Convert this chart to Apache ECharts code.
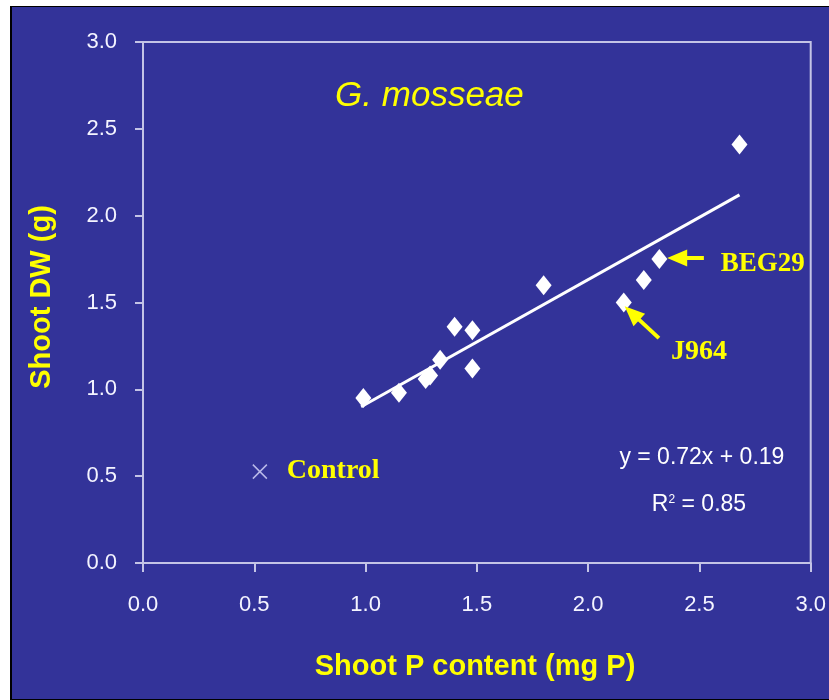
<!DOCTYPE html>
<html>
<head>
<meta charset="utf-8">
<script src="https://cdn.jsdelivr.net/npm/echarts@6/dist/echarts.min.js"></script>
<style>
html,body{margin:0;padding:0;background:#fff;width:829px;height:700px;overflow:hidden;}
#chart{position:absolute;left:10px;top:6px;width:817px;height:692px;border-left:2px solid #000;border-top:1px solid #000;border-bottom:1px solid #000;}
</style>
</head>
<body>
<div id="chart"></div>
<script>
// Data
const xTicks = [0.0, 0.5, 1.0, 1.5, 2.0, 2.5, 3.0];
const yTicks = [0.0, 0.5, 1.0, 1.5, 2.0, 2.5, 3.0];
const shootP  = [0.99, 1.15, 1.27, 1.29, 1.335, 1.40, 1.48, 1.48, 1.80, 2.16, 2.25, 2.32, 2.68];
const shootDW = [0.95, 0.98, 1.06, 1.08, 1.17, 1.36, 1.34, 1.12, 1.60, 1.50, 1.63, 1.75, 2.41];
const controlPoint = [0.525, 0.526];
const trendX = [0.98, 2.68];
const trendY = [0.90, 2.12];
const speciesTitle = 'G. mosseae';
const equationText = 'y = 0.72x + 0.19';
const r2Text = '0.85';

const yellow = '#ffff00';
const axisCol = '#c4c4e6';
const sans = '"Liberation Sans", Arial, sans-serif';
const serif = '"Liberation Serif", "Times New Roman", serif';

const chart = echarts.init(document.getElementById('chart'), null, {renderer:'canvas'});

const notes = [
  {value:[1.287, 2.69], label:{formatter: speciesTitle, align:'center', fontFamily:sans, fontStyle:'italic', fontSize:35, color:yellow}},
  {value:[2.596, 1.72], label:{formatter:'BEG29', align:'left', fontFamily:serif, fontWeight:'bold', fontSize:27, color:yellow}},
  {value:[2.372, 1.215], label:{formatter:'J964', align:'left', fontFamily:serif, fontWeight:'bold', fontSize:28, color:yellow}},
  {value:[0.646, 0.53], label:{formatter:'Control', align:'left', fontFamily:serif, fontWeight:'bold', fontSize:28, color:yellow}},
  {value:[2.511, 0.604], label:{formatter: equationText, align:'center', fontFamily:sans, fontSize:23, color:'#ffffff'}},
  {value:[2.498, 0.334], label:{formatter: 'R{sup|2} = ' + r2Text, align:'center', fontFamily:sans, fontSize:23, color:'#ffffff',
     rich:{sup:{fontSize:12, verticalAlign:'top', color:'#ffffff', fontFamily:sans, padding:[0,0,10,0]}}}}
];

const option = {
  backgroundColor:'#333399',
  animation:false,
  grid:{left:131, top:35, right:17, bottom:136, show:true, borderColor:axisCol, borderWidth:2, backgroundColor:'transparent'},
  xAxis:{
    type:'value', min:0, max:3, interval:0.5,
    axisLine:{show:true, lineStyle:{color:axisCol, width:2}},
    axisTick:{show:true, inside:false, length:9, lineStyle:{color:axisCol, width:2}},
    splitLine:{show:false},
    axisLabel:{margin:31, color:'#f4f4ff', fontSize:22, fontFamily:sans, formatter:v=>v.toFixed(1)}
  },
  yAxis:{
    type:'value', min:0, max:3, interval:0.5,
    axisLine:{show:true, lineStyle:{color:axisCol, width:2}},
    axisTick:{show:true, inside:false, length:8, lineStyle:{color:axisCol, width:2}},
    splitLine:{show:false},
    axisLabel:{margin:26, color:'#f4f4ff', fontSize:22, fontFamily:sans, formatter:v=>v.toFixed(1)}
  },
  graphic:[
    {type:'text', x:463, y:660, style:{text:'Shoot P content (mg P)', fill:yellow, font:'bold 29px ' + sans, align:'center', verticalAlign:'middle', textAlign:'center', textVerticalAlign:'middle'}},
    {type:'text', x:30, y:290, rotation:Math.PI/2, style:{text:'Shoot DW (g)', fill:yellow, font:'bold 29px ' + sans, align:'center', verticalAlign:'middle', textAlign:'center', textVerticalAlign:'middle'}}
  ],
  series:[
    {
      type:'line', name:'trend', data: trendX.map((x,i)=>[x, trendY[i]]),
      symbol:'none', lineStyle:{color:'#ffffff', width:3}, z:3, silent:true,
      markLine:{
        silent:true, symbol:['none','triangle'], symbolSize:[17,20],
        lineStyle:{color:yellow, width:4, type:'solid', opacity:1}, label:{show:false},
        data:[
          [{coord:[2.52,1.756]},{coord:[2.40,1.756]}],
          [{coord:[2.318,1.295]},{coord:[2.197,1.439]}]
        ]
      }
    },
    {
      type:'scatter', name:'isolates', data: shootP.map((x,i)=>[x, shootDW[i]]),
      symbol:'diamond', symbolSize:[16,20], itemStyle:{color:'#ffffff', opacity:1}, z:4
    },
    {
      type:'scatter', name:'control', data:[controlPoint],
      symbol:'path://M0,0L10,10M10,0L0,10', symbolSize:14,
      itemStyle:{color:'none', borderColor:'#b8b8e8', borderWidth:1.5, opacity:1}, z:4
    },
    {
      type:'scatter', name:'notes', data: notes, symbolSize:0, silent:true, z:5,
      itemStyle:{opacity:1},
      label:{show:true, position:'inside', verticalAlign:'middle', opacity:1}
    }
  ]
};
chart.setOption(option);
</script>
</body>
</html>
